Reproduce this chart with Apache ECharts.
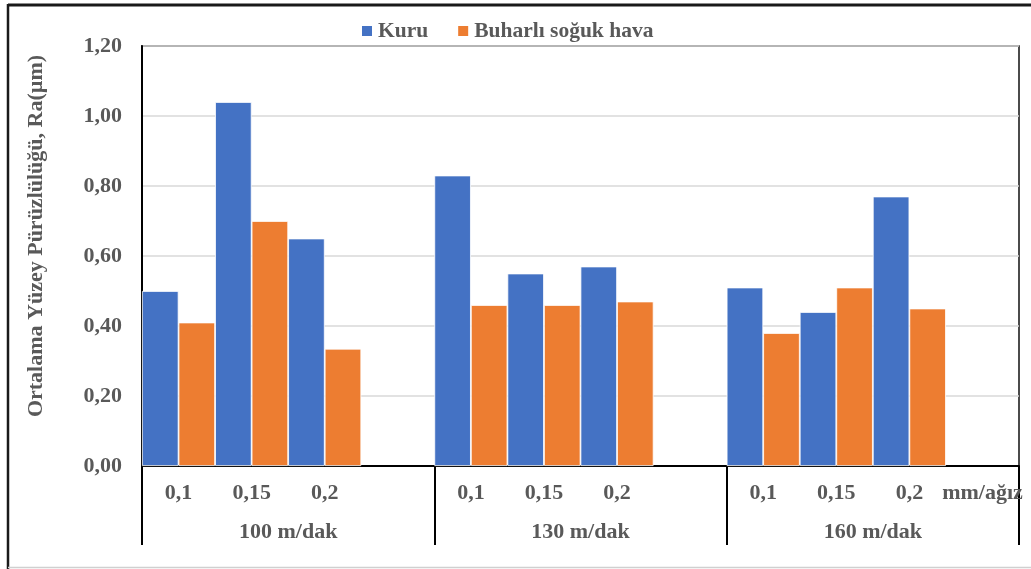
<!DOCTYPE html>
<html>
<head>
<meta charset="utf-8">
<script src="https://cdn.jsdelivr.net/npm/echarts@6/dist/echarts.min.js"></script>
<style>
html,body{margin:0;padding:0;background:#fff;}
#c{width:1031px;height:569px;}
</style>
</head>
<body>
<div id="c"></div>
<script>
const feedLabels = ['0,1','0,15','0,2','', '0,1','0,15','0,2','', '0,1','0,15','0,2','mm/ağız'];
const speedGroups = ['100 m/dak','130 m/dak','160 m/dak'];
const seriesNames = ['Kuru','Buharlı soğuk hava'];
const kuru = [0.50, 1.04, 0.65, '-', 0.83, 0.55, 0.57, '-', 0.51, 0.44, 0.77, '-'];
const buharli = [0.41, 0.70, 0.335, '-', 0.46, 0.46, 0.47, '-', 0.38, 0.51, 0.45, '-'];
const yTicks = {min: 0, max: 1.2, interval: 0.2};

const font = '"Liberation Serif", "Times New Roman", serif';
const textColor = '#595959';
const chart = echarts.init(document.getElementById('c'));
chart.setOption({
  animation: false,
  textStyle: {fontFamily: font},
  color: ['#4472C4', '#ED7D31'],
  graphic: [
    {type: 'line', shape: {x1: 8, y1: 5, x2: 1031, y2: 5}, style: {stroke: '#1a1a1a', lineWidth: 3}},
    {type: 'line', shape: {x1: 8, y1: 4, x2: 8, y2: 569}, style: {stroke: '#1a1a1a', lineWidth: 2.5}},
    {type: 'line', shape: {x1: 8, y1: 567.5, x2: 1031, y2: 567.5}, style: {stroke: '#d0d0d0', lineWidth: 1.5}}
  ],
  legend: {
    top: 15, left: 355,
    itemWidth: 12, itemHeight: 12, itemGap: 28,
    icon: 'rect',
    textStyle: {fontFamily: font, fontSize: 21.5, fontWeight: 'bold', color: textColor},
    data: seriesNames
  },
  grid: {left: 142, right: 12, top: 46, bottom: 103, show: true, borderColor: '#111', borderWidth: 1.5},
  xAxis: [
    {
      type: 'category', data: feedLabels, position: 'bottom',
      axisLine: {show: true, lineStyle: {color: '#000', width: 2}},
      axisTick: {show: false},
      axisLabel: {interval: 0, margin: 16, fontSize: 22, fontWeight: 'bold', color: textColor, fontFamily: font}
    },
    {
      type: 'category', data: speedGroups, position: 'bottom',
      axisLine: {show: false},
      axisTick: {show: true, length: 79, interval: 0, lineStyle: {color: '#000', width: 2}},
      axisLabel: {interval: 0, margin: 55, fontSize: 22, fontWeight: 'bold', color: textColor, fontFamily: font}
    }
  ],
  yAxis: {
    type: 'value', min: yTicks.min, max: yTicks.max, interval: yTicks.interval,
    name: 'Ortalama Yüzey Pürüzlülüğü, Ra(µm)',
    nameLocation: 'middle', nameGap: 95, nameRotate: 90,
    nameTextStyle: {fontSize: 22, fontWeight: 'bold', color: textColor, fontFamily: font, padding: [0, 0, 0, 40]},
    axisLine: {show: true, lineStyle: {color: '#000', width: 2}},
    axisTick: {show: false},
    splitLine: {lineStyle: {color: '#d9d9d9', width: 1.5}},
    axisLabel: {margin: 20, fontSize: 22, fontWeight: 'bold', color: textColor, fontFamily: font,
      formatter: v => v.toFixed(2).replace('.', ',')}
  },
  series: [
    {name: seriesNames[0], type: 'bar', data: kuru, barGap: '0%', barCategoryGap: '0%',
     itemStyle: {borderColor: '#fff', borderWidth: 0.8}},
    {name: seriesNames[1], type: 'bar', data: buharli, barGap: '0%', barCategoryGap: '0%',
     itemStyle: {borderColor: '#fff', borderWidth: 0.8}}
  ]
});
</script>
</body>
</html>
